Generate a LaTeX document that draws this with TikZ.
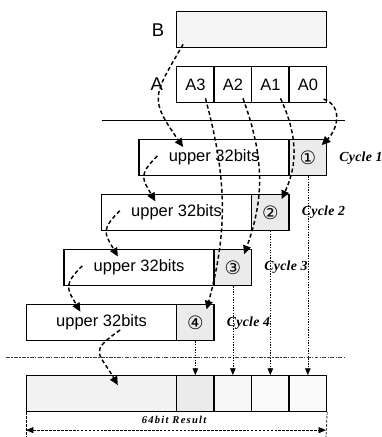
\documentclass[tikz,border=0pt]{standalone}
\usepackage{fontspec}
\setmainfont{Liberation Sans}
\newfontfamily\cyclefont[LetterSpace=2]{Liberation Serif}
\newfontfamily\resfont[LetterSpace=12]{Liberation Serif}
\newfontfamily\circfont{DejaVu Sans}
\usetikzlibrary{arrows.meta}

\begin{document}
\begin{tikzpicture}[
  box/.style={draw, line width=0.9pt, minimum width=1cm, minimum height=0.96cm,
              inner sep=0pt, anchor=north west, font=\fontsize{12.5}{14}\selectfont},
  slot/.style={box, fill=black!8, font=\circfont\fontsize{14}{16}\selectfont},
  flow/.style={draw, line width=1.1pt, dash pattern=on 3pt off 2pt,
               -{Triangle[length=2.3mm,width=2.1mm]}},
  drop/.style={draw, line width=0.5pt, dash pattern=on 1pt off 1pt,
               -{Triangle[length=1.8mm,width=1.5mm]}},
  dim/.style={draw, line width=0.5pt, dash pattern=on 2pt off 1pt},
  cyc/.style={anchor=west, font=\cyclefont\bfseries\itshape\fontsize{10.5}{12}\selectfont},
  lab/.style={font=\fontsize{14}{16}\selectfont}
]
  \useasboundingbox (-0.693,-1.653) rectangle (9.467,10);
  % operands
  \node[box, minimum width=4cm, fill=black!4] (B) at (4,9.7) {};
  \node[lab] (Blab) at (3.52,9.2) {B};
  \foreach \n [count=\k from 0] in {A3,A2,A1,A0}
    \node[box] (\n) at (4+\k,8.24) {\n};
  \node[lab] (Alab) at (3.49,7.76) {A};
  \draw[line width=0.6pt] (2.03,6.8) -- (8.5,6.8);
  % partial products
  \foreach \i/\x/\y/\c in {1/3/6.29/①, 2/2/4.83/②, 3/1/3.36/③, 4/0/1.89/④} {
    \node[box, minimum width=4cm] (c\i) at (\x,\y) {upper 32bits};
    \node[slot] (s\i) at (\x+4,\y) {\c};
    \node[cyc] (y\i) at ([xshift=0.2cm]s\i.east) {Cycle \i};
  }
  \draw[black!75, line width=0.6pt, dash pattern=on 3pt off 1pt on 1pt off 1pt]
    (-0.53,0.48) -- (8.5,0.48);
  % result
  \node[box, minimum width=4cm, fill=black!5] (R) at (0,0) {};
  \foreach \k/\f in {1/8,2/3,3/2,4/2}
    \node[box, fill=black!\f] (r\k) at (3+\k,0) {};
  % data flow
  \draw[flow] ([shift={(0.19,0.11)}]B.south west) to[out=240,in=125,looseness=1.5]
    ([shift={(1.19,-0.21)}]c1.north west);
  \foreach \n/\t/\b in {A3/s4/75, A2/s3/70, A1/s2/65}
    \draw[flow] ([shift={(0.27,0.13)}]\n.south) to[out=-\b,in=\b]
      ([shift={(0.3,-0.14)}]\t.north);
  \draw[flow] ([shift={(0.42,0.11)}]A0.south) to[out=-20,in=45,looseness=1.2]
    ([shift={(0.37,-0.16)}]s1.north);
  \foreach \k/\m in {1/2,2/3,3/4}
    \draw[flow] ([shift={(0.5,-0.45)}]c\k.north west) to[out=225,in=120,looseness=1.5]
      ([shift={(1.45,-0.2)}]c\m.north west);
  \draw[flow] ([shift={(2.51,-0.69)}]c4.north west) to[out=215,in=120,looseness=1.8]
    ([shift={(2.45,-0.27)}]R.north west);
  \foreach \k/\m in {1/4,2/3,3/2,4/1}
    \draw[drop] (s\k.south) -- (r\m.north);
  % width of the result
  \coordinate (d0) at (0,-1.653);
  \coordinate (d1) at (8,-1.653);
  \coordinate (e0) at (0,-1.47);
  \coordinate (e1) at (8,-1.47);
  \draw[dim] (R.south west) -- (d0);
  \draw[dim] (r4.south east) -- (d1);
  \draw[dim, {Triangle[length=2mm,width=1.6mm]}-{Triangle[length=2mm,width=1.6mm]}]
    (e0) -- (e1);
  \node[font=\resfont\bfseries\itshape\fontsize{8}{9}\selectfont] (res) at (3.95,-1.2)
    {64bit Result};
\end{tikzpicture}
\end{document}
